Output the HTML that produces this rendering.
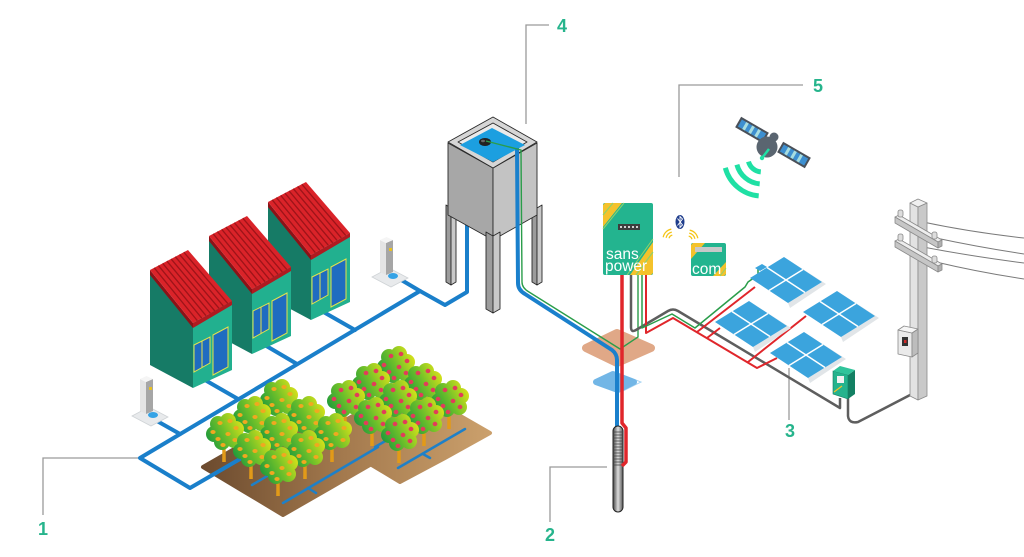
<!DOCTYPE html>
<html><head><meta charset="utf-8"><style>
html,body{margin:0;padding:0;background:#fff;}
svg{display:block;}
.lbl{font-family:"Liberation Sans",sans-serif;font-weight:bold;font-size:18px;fill:#26b48c;text-anchor:middle;}
</style></head><body>
<svg width="1024" height="557" viewBox="0 0 1024 557" xmlns="http://www.w3.org/2000/svg">
<defs>
<linearGradient id="gT" gradientUnits="userSpaceOnUse" x1="-18" y1="10" x2="20" y2="-10"><stop offset="0" stop-color="#17963c"/><stop offset="0.5" stop-color="#6fc02a"/><stop offset="1" stop-color="#e0e418"/></linearGradient>
<linearGradient id="gG" gradientUnits="userSpaceOnUse" x1="200" y1="0" x2="490" y2="0"><stop offset="0" stop-color="#6b4a2e"/><stop offset="0.5" stop-color="#a47a4e"/><stop offset="1" stop-color="#cba06c"/></linearGradient>
<linearGradient id="gP" x1="0" y1="0" x2="1" y2="0"><stop offset="0" stop-color="#444"/><stop offset="0.5" stop-color="#ddd"/><stop offset="1" stop-color="#555"/></linearGradient>
<g id="house">
<polygon points="150,273 193,326 193,388 150,365" fill="#167b66"/>
<polygon points="193,323 232,301 232,370 193,388" fill="#22b08f"/>
<polygon points="150,270 193,323 193,328 150,275" fill="#8c1217"/>
<polygon points="193,323 232,301 232,305 193,328" fill="#b01a20"/>
<polygon points="150,270 188,250 232,301 193,323" fill="#da2329"/>
<g stroke="#9e1419" stroke-width="1.3">
<line x1="154.2" y1="267.8" x2="197.3" y2="320.6"/><line x1="158.4" y1="265.6" x2="201.7" y2="318.1"/>
<line x1="162.7" y1="263.3" x2="206" y2="315.7"/><line x1="166.9" y1="261.1" x2="210.3" y2="313.2"/>
<line x1="171.1" y1="258.9" x2="214.7" y2="310.8"/><line x1="175.3" y1="256.7" x2="219" y2="308.3"/>
<line x1="179.6" y1="254.4" x2="223.3" y2="305.9"/><line x1="183.8" y1="252.2" x2="227.7" y2="303.4"/>
</g>
<polygon points="194,345 210,337 210,363 194,372" fill="#1f6cc0" stroke="#e6e24a" stroke-width="1"/>
<line x1="202" y1="341" x2="202" y2="367.5" stroke="#e6e24a" stroke-width="1"/>
<polygon points="213,335 228,327 228,367 213,375" fill="#1f6cc0" stroke="#e6e24a" stroke-width="1"/>
</g>
<g id="canopy">
<path d="M-1.6,10 L1.6,10 L1.8,30 L-1.8,30Z M0,21 L-6,12 L-4,11 L1,18Z" fill="#e29a18"/>
<g fill="url(#gT)">
<circle cx="-10" cy="2" r="8"/><circle cx="-6" cy="-8" r="8"/><circle cx="4" cy="-11" r="8"/>
<circle cx="12" cy="-3" r="8"/><circle cx="10" cy="8" r="8"/><circle cx="-2" cy="10" r="8"/><circle cx="1" cy="0" r="10"/>
</g>
</g>
<g id="fy" fill="#f0a820">
<ellipse cx="-11" cy="0" rx="2.6" ry="2"/><ellipse cx="-4" cy="-9" rx="2.6" ry="2"/><ellipse cx="6" cy="-11" rx="2.6" ry="2"/>
<ellipse cx="12" cy="-4" rx="2.6" ry="2"/><ellipse cx="-6" cy="7" rx="2.6" ry="2"/><ellipse cx="4" cy="2" rx="2.6" ry="2"/>
<ellipse cx="11" cy="8" rx="2.6" ry="2"/><ellipse cx="-1" cy="13" rx="2.6" ry="2"/>
</g>
<g id="fr" fill="#e23c5a">
<ellipse cx="-11" cy="0" rx="2.4" ry="2.2"/><ellipse cx="-4" cy="-9" rx="2.4" ry="2.2"/><ellipse cx="6" cy="-11" rx="2.4" ry="2.2"/>
<ellipse cx="12" cy="-4" rx="2.4" ry="2.2"/><ellipse cx="-6" cy="7" rx="2.4" ry="2.2"/><ellipse cx="4" cy="2" rx="2.4" ry="2.2"/>
<ellipse cx="11" cy="8" rx="2.4" ry="2.2"/><ellipse cx="-1" cy="13" rx="2.4" ry="2.2"/>
</g>
<g id="treeY"><use href="#canopy"/><use href="#fy"/></g>
<g id="treeR"><use href="#canopy"/><use href="#fr"/></g>
<g id="tap">
<polygon points="372,277 389,268 408,278 391,287" fill="#e8eaec" stroke="#cfd3d6" stroke-width="0.8"/>
<ellipse cx="393" cy="276" rx="5" ry="3" fill="#35a3e6"/>
<polygon points="380,240 386,243 386,275 380,272" fill="#e4e4e4"/>
<polygon points="386,243 393,240 393,272 386,275" fill="#a6a6a6"/>
<polygon points="380,240 386.5,237 393,240 386,243" fill="#f5f5f5"/>
<rect x="389" y="248" width="3" height="3" fill="#e8c020"/>
</g>
<g id="panel">
<polygon points="784,257 826,284 790,308 788,303 822,282" fill="#e1e5e8"/>
<polygon points="750,278 784,257 822,282 788,303" fill="#3ba4dd"/>
<line x1="767" y1="267.5" x2="805" y2="292.5" stroke="#fff" stroke-width="1.5"/>
<line x1="769" y1="290.5" x2="803" y2="269.5" stroke="#fff" stroke-width="1.5"/>
</g>
</defs>

<rect width="1024" height="557" fill="#fff"/>

<!-- leader lines -->
<g stroke="#9a9a9a" stroke-width="1.3" fill="none">
<polyline points="43,515 43,458 138,458"/>
<polyline points="550,522 550,467 607,467"/>
<line x1="789" y1="368" x2="789" y2="420"/>
<polyline points="549,25 526,25 526,124"/>
<polyline points="803,85 679,85 679,177"/>
</g>
<text class="lbl" x="43" y="535">1</text>
<text class="lbl" x="550" y="541">2</text>
<text class="lbl" x="790" y="437">3</text>
<text class="lbl" x="562" y="32">4</text>
<text class="lbl" x="818" y="92">5</text>

<!-- fields ground -->
<polygon points="320,434 360,412 410,385 450,410 490,433 445,458 400,482 360,458" fill="url(#gG)" stroke="url(#gG)" stroke-width="4" stroke-linejoin="round"/>
<polygon points="203,467 250,440 295,414 335,438 375,462 330,488 283,515 243,491" fill="url(#gG)" stroke="url(#gG)" stroke-width="4" stroke-linejoin="round"/>

<!-- irrigation lines -->
<g stroke="#1e80c8" stroke-width="2.5" fill="none" stroke-linecap="round">
<line x1="237" y1="461" x2="300" y2="424"/>
<line x1="252" y1="485" x2="345" y2="430"/>
<line x1="283" y1="503" x2="378" y2="447"/>
<line x1="308" y1="488" x2="316" y2="493"/>
<line x1="398" y1="468" x2="465" y2="429"/>
<line x1="375" y1="447" x2="440" y2="409"/>
<line x1="423" y1="454" x2="430" y2="458"/>
</g>

<!-- house water pipes -->
<g stroke="#1a7fca" stroke-width="4" fill="none" stroke-linejoin="round" stroke-linecap="round">
<path d="M472,216 Q467,218 467,224 L467,292 L445,305 L420,291 L140,458 L190,488 L240,459"/>
<line x1="420" y1="291" x2="398" y2="278"/>
<line x1="355" y1="330" x2="320" y2="310"/>
<line x1="297" y1="364" x2="263" y2="344"/>
<line x1="238" y1="399" x2="205" y2="380"/>
<line x1="180" y1="434" x2="157" y2="421"/>
</g>

<!-- houses -->
<use href="#house" transform="translate(118,-68)"/>
<use href="#house" transform="translate(59,-34)"/>
<use href="#house"/>

<!-- taps -->
<use href="#tap"/>
<use href="#tap" transform="translate(-240,139)"/>

<!-- trees -->
<use href="#treeR" transform="translate(395,365)"/>
<use href="#treeR" transform="translate(370,382)"/>
<use href="#treeR" transform="translate(422,382)"/>
<use href="#treeY" transform="translate(278,398)"/>
<use href="#treeR" transform="translate(345,399)"/>
<use href="#treeR" transform="translate(397,399)"/>
<use href="#treeR" transform="translate(449,399)"/>
<use href="#treeY" transform="translate(251,415)"/>
<use href="#treeY" transform="translate(305,415)"/>
<use href="#treeR" transform="translate(372,416)"/>
<use href="#treeR" transform="translate(424,416)"/>
<use href="#treeY" transform="translate(224,432)"/>
<use href="#treeY" transform="translate(278,432)"/>
<use href="#treeY" transform="translate(332,432)"/>
<use href="#treeR" transform="translate(399,433)"/>
<use href="#treeY" transform="translate(251,449)"/>
<use href="#treeY" transform="translate(305,449)"/>
<use href="#treeY" transform="translate(278,466)"/>

<!-- water tower -->
<g stroke="#2a2a2a" stroke-width="0.9" stroke-linejoin="round">
<polygon points="446,205 451,208 451,285 446,282" fill="#9c9c9c"/>
<polygon points="451,208 456,205 456,282 451,285" fill="#c9c9c9"/>
<polygon points="532,205 537,208 537,285 532,282" fill="#9c9c9c"/>
<polygon points="537,208 542,205 542,282 537,285" fill="#c9c9c9"/>
<polygon points="448,143 493,168 493,240 448,215" fill="#a7a7a7"/>
<polygon points="493,168 537,143 537,215 493,240" fill="#c3c3c3"/>
<polygon points="486,232 493,236 493,313 486,309" fill="#9c9c9c"/>
<polygon points="493,236 500,232 500,309 493,313" fill="#c9c9c9"/>
<polygon points="493,117 537,142 493,168 448,142" fill="#d6d6d6"/>
<polygon points="493,123 527,142 493,162 458,142" fill="#eaeaea"/>
</g>
<polygon points="492,128 525,145 493,162 460,145" fill="#1c9fe0"/>
<ellipse cx="485" cy="142" rx="6" ry="4" fill="#222"/>
<ellipse cx="483" cy="141" rx="2" ry="1.2" fill="#666"/>

<!-- borehole squares -->
<polygon points="586,348 617,333 651,348 617,363" fill="#e0a887" stroke="#e0a887" stroke-width="8" stroke-linejoin="round"/>
<polygon points="601,382 618,373 641,382 623,391" fill="none" stroke="#a6d3f2" stroke-width="1"/>
<polygon points="596,382 613,374 634,382 618,390" fill="#72b6e6" stroke="#72b6e6" stroke-width="6" stroke-linejoin="round"/>

<!-- pipe from tank to pump -->
<path d="M517,148 L518,283 Q518,290 525,294 L612,350 Q617,354 617,360 L617,430" stroke="#1a80cc" stroke-width="4" fill="none" stroke-linejoin="round"/>
<path d="M486,141 L521,150 L522,282 Q522,288 529,292 L620,349 L638,337 L638,275" stroke="#2a9d4a" stroke-width="1.4" fill="none" stroke-linejoin="round"/>

<!-- pump -->
<rect x="613" y="426" width="10" height="86" rx="5" fill="url(#gP)" stroke="#222" stroke-width="1"/>
<g stroke="#444" stroke-width="0.8">
<line x1="613" y1="432" x2="623" y2="432"/><line x1="613" y1="435" x2="623" y2="435"/><line x1="613" y1="438" x2="623" y2="438"/>
<line x1="613" y1="441" x2="623" y2="441"/><line x1="613" y1="444" x2="623" y2="444"/><line x1="613" y1="447" x2="623" y2="447"/>
<line x1="613" y1="450" x2="623" y2="450"/><line x1="613" y1="453" x2="623" y2="453"/><line x1="613" y1="456" x2="623" y2="456"/>
<line x1="613" y1="459" x2="623" y2="459"/><line x1="613" y1="462" x2="623" y2="462"/><line x1="613" y1="465" x2="623" y2="465"/>
</g>
<path d="M622,275 L622,423 L626,428 L626,462 L622,466" stroke="#e0262b" stroke-width="3.5" fill="none" stroke-linejoin="round"/>

<!-- controller wires -->
<g fill="none" stroke-linejoin="round">
<path d="M631,275 L631,327 Q631,333 636,330 L668,311 Q673,308 678,311 L840,408 L840,398" stroke="#5e5e5e" stroke-width="2.5"/>
<path d="M848,398 L848,416 Q849,424 858,422 L912,394" stroke="#5e5e5e" stroke-width="2.5"/>
<path d="M646,275 L646,333 L673,318 L757,368 L777,358" stroke="#e0262b" stroke-width="2"/>
<path d="M697,332 L755,287 M707,338 L720,328 M748,362 L806,316" stroke="#e0262b" stroke-width="2"/>
<path d="M642,275 L642,328 L672,314 L695,328 L745,287 L748,282 L758,275 L758,268" stroke="#2a9d4a" stroke-width="1.5"/>
</g>

<!-- solar panels -->
<use href="#panel"/>
<polygon points="755,268 762,264 767,267 760,271" fill="#3ba4dd"/>
<use href="#panel" transform="translate(53,34)"/>
<use href="#panel" transform="translate(-35,44)"/>
<use href="#panel" transform="translate(20,75)"/>

<!-- controller -->
<rect x="603" y="203" width="50" height="72" rx="2" fill="#23b48f"/>
<polygon points="603,205 605,203 622,203 603,227" fill="#f4c22b"/>
<line x1="613" y1="203" x2="603" y2="215" stroke="#8fd26a" stroke-width="1.2"/>
<line x1="624" y1="203" x2="603" y2="229" stroke="#8fd26a" stroke-width="1"/>
<polygon points="653,242 653,273 651,275 630,275" fill="#f4c22b"/>
<line x1="653" y1="252" x2="636" y2="275" stroke="#8fd26a" stroke-width="1.2"/>
<line x1="653" y1="239" x2="627" y2="275" stroke="#8fd26a" stroke-width="1"/>
<rect x="618" y="224" width="22" height="6" fill="#3d3d3d"/>
<g fill="#fff"><circle cx="621" cy="227" r="1"/><circle cx="625" cy="227" r="1"/><circle cx="629" cy="227" r="1"/><circle cx="633" cy="227" r="1"/><circle cx="637" cy="227" r="1"/></g>
<text x="606" y="259" font-family="Liberation Sans, sans-serif" font-size="15.5" fill="#fff">sans</text>
<text x="605" y="271" font-family="Liberation Sans, sans-serif" font-size="15.5" fill="#fff">power</text>

<!-- com -->
<rect x="691" y="243" width="35" height="33" rx="2" fill="#23b48f"/>
<polygon points="691,245 693,243 705,243 691,259" fill="#f4c22b"/>
<polygon points="726,262 726,274 724,276 713,276" fill="#f4c22b"/>
<line x1="726" y1="268" x2="720" y2="276" stroke="#8fd26a" stroke-width="1"/>
<rect x="695" y="247" width="27" height="5" fill="#c8c8c8"/>
<text x="692" y="274" font-family="Liberation Sans, sans-serif" font-size="15.5" fill="#fff">com</text>

<!-- bluetooth & wifi -->
<ellipse cx="680" cy="222" rx="4.5" ry="7" fill="#1f3d8c"/>
<polyline points="677.5,218.5 682.5,225 680,227.5 680,216.5 682.5,219 677.5,225.5" fill="none" stroke="#fff" stroke-width="0.9"/>
<g fill="none" stroke="#f5c518" stroke-width="1.3">
<path d="M669.1,238.3 A4,4 0 0 1 672.3,235.1"/><path d="M666.1,237.8 A7,7 0 0 1 671.8,232.1"/><path d="M663.2,237.3 A10,10 0 0 1 671.3,229.2"/>
<path d="M688.7,236.1 A4,4 0 0 1 691.9,239.3"/><path d="M689.2,233.1 A7,7 0 0 1 694.9,238.8"/><path d="M689.7,230.2 A10,10 0 0 1 697.8,238.3"/>
</g>

<!-- satellite -->
<g fill="none" stroke="#1fe0a4" stroke-width="5">
<path d="M725.3,167.8 A38,38 0 0 0 758.7,195.9"/>
<path d="M736.9,164.7 A26,26 0 0 0 759.7,183.9"/>
<path d="M748.5,161.6 A14,14 0 0 0 760.8,171.9"/>
</g>
<g transform="rotate(30 752 130)">
<rect x="736" y="124" width="32" height="12" fill="#4a5058"/>
<rect x="738" y="126" width="28" height="8" fill="#3d8fd0"/>
<rect x="743" y="126" width="3" height="8" fill="#a8dde0"/><rect x="750" y="126" width="3" height="8" fill="#a8dde0"/><rect x="757" y="126" width="3" height="8" fill="#a8dde0"/>
</g>
<g transform="rotate(30 794 155)">
<rect x="778" y="149" width="32" height="12" fill="#4a5058"/>
<rect x="780" y="151" width="28" height="8" fill="#3d8fd0"/>
<rect x="785" y="151" width="3" height="8" fill="#a8dde0"/><rect x="792" y="151" width="3" height="8" fill="#a8dde0"/><rect x="799" y="151" width="3" height="8" fill="#a8dde0"/>
</g>
<circle cx="774" cy="137" r="4.5" fill="#5a6570"/>
<circle cx="767" cy="147" r="10.5" fill="#5a6570"/>
<line x1="769" y1="149" x2="762" y2="158" stroke="#1fe0a4" stroke-width="2.5"/>
<circle cx="762" cy="158" r="2.2" fill="#1fe0a4"/>

<!-- power lines -->
<g fill="none" stroke="#7a7a7a" stroke-width="1">
<path d="M923,222 Q970,232 1024,238"/>
<path d="M936,238 Q978,247 1024,254"/>
<path d="M923,247 Q970,256 1024,263"/>
<path d="M936,262 Q978,272 1024,279"/>
</g>

<!-- pole -->
<g stroke="#8a8a8a" stroke-width="0.8" stroke-linejoin="round">
<polygon points="910,203 918,207 918,400 910,396" fill="#e2e2e2"/>
<polygon points="918,207 927,203 927,396 918,400" fill="#c9c9c9"/>
<polygon points="910,203 918,199 927,203 918,207" fill="#f0f0f0"/>
<polygon points="895,217 899,215 942,240 938,242" fill="#ededed"/>
<polygon points="895,217 938,242 938,248 895,223" fill="#c6c6c6"/>
<polygon points="942,240 942,246 938,248 938,242" fill="#b0b0b0"/>
<polygon points="895,241 899,239 942,264 938,266" fill="#ededed"/>
<polygon points="895,241 938,266 938,272 895,247" fill="#c6c6c6"/>
<polygon points="942,264 942,270 938,272 938,266" fill="#b0b0b0"/>
<rect x="898" y="210" width="5" height="7" rx="2" fill="#ddd"/>
<rect x="932" y="232" width="5" height="7" rx="2" fill="#ddd"/>
<rect x="898" y="234" width="5" height="7" rx="2" fill="#ddd"/>
<rect x="932" y="256" width="5" height="7" rx="2" fill="#ddd"/>
<polygon points="898,330 912,333 912,357 898,354" fill="#eaeaea"/>
<polygon points="912,333 918,329 918,353 912,357" fill="#bdbdbd"/>
<polygon points="898,330 904,326 918,329 912,333" fill="#f6f6f6"/>
</g>
<rect x="902" y="337" width="6" height="9" fill="#333"/>
<rect x="904" y="340" width="2.5" height="3" fill="#d02a2a"/>

<!-- small meter -->
<polygon points="833,371 848,375 848,399 833,394" fill="#25b38d" stroke="#137a60" stroke-width="0.6"/>
<polygon points="848,375 855,370 855,394 848,399" fill="#138063"/>
<polygon points="833,371 840,366 855,370 848,375" fill="#30c49b"/>
<rect x="837" y="376" width="7" height="7" fill="#f2f2f2"/>
<line x1="834" y1="392" x2="842" y2="386" stroke="#f4c22b" stroke-width="1.2"/>
</svg>
</body></html>
